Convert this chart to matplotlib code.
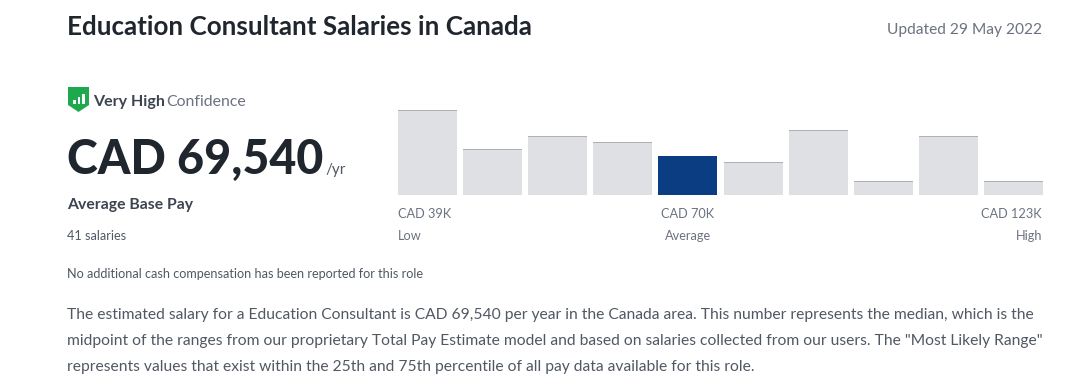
import matplotlib
matplotlib.use("Agg")
import matplotlib.pyplot as plt
from matplotlib.patches import Polygon, Rectangle

plt.rcParams['font.family'] = ['Lato', 'DejaVu Sans']

# bar heights
counts = [85, 46, 59, 53, 39, 33, 65, 14, 59, 14]
highlight = 4

paragraph = [
    "The estimated salary for a Education Consultant is CAD 69,540 per year in the Canada area. This number represents the median, which is the",
    "midpoint of the ranges from our proprietary Total Pay Estimate model and based on salaries collected from our users. The \"Most Likely Range\"",
    "represents values that exist within the 25th and 75th percentile of all pay data available for this role.",
]

DARK = "#20262e"
MID = "#505863"
GREY = "#6b7280"

fig = plt.figure(figsize=(10.8, 3.9), dpi=100)

# page layer in pixel coordinates, y going down
page = fig.add_axes([0, 0, 1, 1])
page.set_xlim(0, 1080)
page.set_ylim(390, 0)
page.axis("off")


def txt(x, y, s, size, color=MID, weight="normal", ha="left"):
    return page.text(x, y, s, fontsize=size, color=color, fontweight=weight, ha=ha, va="baseline")


txt(67, 35, "Education Consultant Salaries in Canada", 18.7, DARK, "bold")
txt(1042, 34, "Updated 29 May 2022", 11.2, GREY, ha="right")

# shield icon
page.add_patch(Polygon([(68, 87), (89, 87), (89, 105), (78.5, 112), (68, 105)], closed=True,
                       facecolor="#1fa94f", edgecolor="none"))
for bx, bh in [(73, 4), (77.5, 7), (82, 10)]:
    page.add_patch(Rectangle((bx, 104 - bh), 2.5, bh, facecolor="white", edgecolor="none"))

txt(93, 106, "Very High", 11.5, "#3b4450", "bold")
txt(166.5, 106, "Confidence", 11.4, GREY)
txt(67, 174, "CAD 69,540", 33.6, DARK, "black")
txt(325, 174, "/yr", 11, MID)
txt(67, 209, "Average Base Pay", 11.3, "#3b4450", "bold")
txt(67, 240, "41 salaries", 9.1, MID)
txt(67, 278, "No additional cash compensation has been reported for this role", 9.05, MID)

txt(398, 218, "CAD 39K", 9.2, GREY)
txt(398, 240, "Low", 9.2, GREY)
txt(688, 218, "CAD 70K", 9.2, GREY, ha="center")
txt(688, 240, "Average", 9.2, GREY, ha="center")
txt(1042, 218, "CAD 123K", 9.2, GREY, ha="right")
txt(1042, 240, "High", 9.2, GREY, ha="right")

for y, line in zip([319, 345, 371], paragraph):
    txt(67, y, line, 11.26, MID)

# histogram
bar_w = 0.906
ax = fig.add_axes([398 / 1080, 1 - 195 / 390, 645 / 1080, 95 / 390])
ax.set_xlim(-bar_w / 2, len(counts) - 1 + bar_w / 2)
ax.set_ylim(0, 95)
ax.axis("off")
colors = ["#0b3d82" if i == highlight else "#dfe0e3" for i in range(len(counts))]
ax.bar(range(len(counts)), counts, width=bar_w, color=colors)
# darker cap along the top of the grey bars
for i, c in enumerate(counts):
    if i != highlight:
        ax.bar(i, 1.3, bottom=c - 1.0, width=bar_w, color="#aeb0b5")

fig.savefig("out.png", dpi=100)
